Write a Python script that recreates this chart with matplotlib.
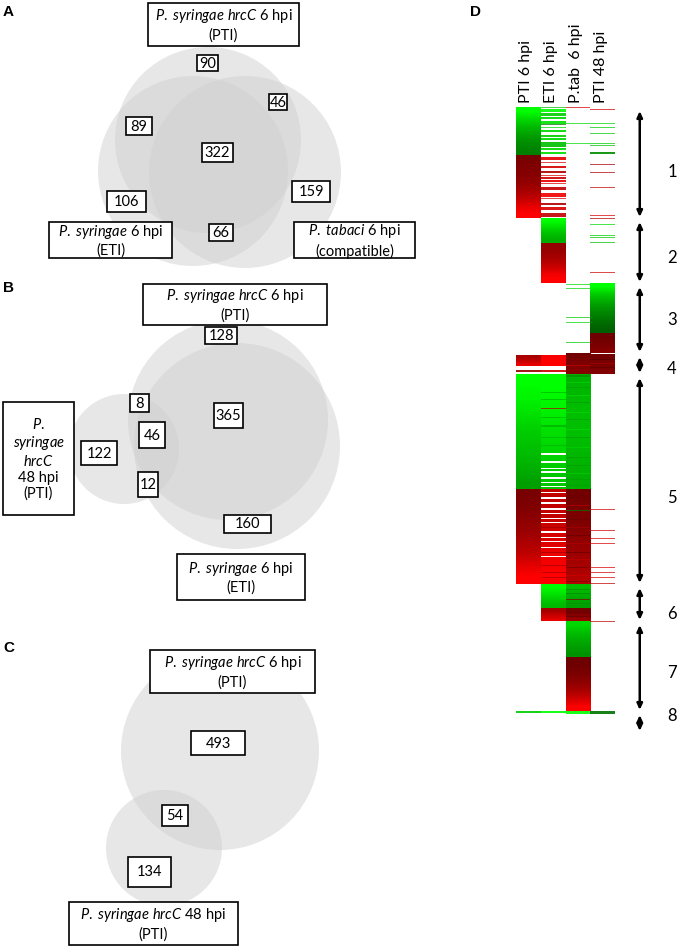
import numpy as np
import matplotlib
matplotlib.use('Agg')
import matplotlib.pyplot as plt
from matplotlib.patches import Circle, Rectangle, FancyArrowPatch
from matplotlib.colors import LinearSegmentedColormap, Normalize

plt.rcParams['font.family'] = ['Lato', 'DejaVu Sans']
plt.rcParams['mathtext.fontset'] = 'custom'
plt.rcParams['mathtext.rm'] = 'Lato'
plt.rcParams['mathtext.it'] = 'Lato:italic'

# ---------------- Venn data ----------------
venn_a_counts = [90, 46, 89, 322, 106, 159, 66]
venn_b_counts = [128, 8, 365, 46, 122, 12, 160]
venn_c_counts = [493, 54, 134]

lab_pti6 = r'$\mathit{P.\ syringae\ hrcC}$ 6 hpi' + '\n(PTI)'
lab_eti6 = r'$\mathit{P.\ syringae}$ 6 hpi' + '\n(ETI)'
lab_ptab = r'$\mathit{P.\ tabaci}$ 6 hpi' + '\n(compatible)'
lab_pti48_tall = r'$\mathit{P.}$' + '\n' + r'$\mathit{syringae}$' + '\n' + r'$\mathit{hrcC}$' + '\n48 hpi\n(PTI)'
lab_pti48 = r'$\mathit{P.\ syringae\ hrcC}$ 48 hpi' + '\n(PTI)'

# ---------------- heatmap data (rows from top, 1 row ~ 1 gene line) ----------------
col_names = ['PTI 6 hpi', 'ETI 6 hpi', 'P.tab  6 hpi', 'PTI 48 hpi']
cluster_bounds = [0, 111, 176, 246, 267, 477, 514, 604, 607]
cluster_names = ['1', '2', '3', '4', '5', '6', '7', '8']
cluster_label_rows = [65, 151, 213, 262, 391, 507, 566, 609]

# blocks: (start row, n rows, log2 fold change values top -> bottom)
pti6_blocks = [(0, 48, [-4.0, -3.4, -2.9, -2.5, -2.2, -2.0]),
               (48, 63, [1.9, 2.0, 2.1, 2.3, 2.6, 3.0, 3.6, 4.0]),
               (248, 11, [2.6, 3.0, 3.6]),
               (267, 115, [-4.0, -3.8, -3.5, -3.2, -3.0, -2.8, -2.5]),
               (382, 95, [1.9, 2.0, 2.2, 2.4, 2.7, 3.0, 3.6, 4.0])]
pti6_stripes = [(263, 2, 2.4), (604, 2, -3.2)]

eti_blocks = [(111, 25, [-4.0, -3.6, -3.2, -2.9, -2.7]),
              (136, 40, [2.3, 2.4, 2.6, 2.9, 3.3, 3.8, 4.0]),
              (248, 11, [3.9, 4.0]),
              (267, 115, [-4.0, -3.8, -3.5, -3.3, -3.1]),
              (382, 95, [3.0, 3.0, 3.2, 3.5, 3.8, 4.0]),
              (477, 24, [-4.0, -3.6, -3.2, -2.9]),
              (501, 13, [2.5, 2.8, 3.2, 3.6])]
eti_stripes = [(0, 0.6, -3.0), (2, 3, -4.0), (6, 3, -3.2), (10, 1.5, -3.4), (14, 3, -3.5),
               (17, 1, -1.6), (20, 1, -3.4), (23, 2, -3.4), (28, 1.5, -3.2), (31, 2, -3.4),
               (35, 5, -3.0), (41, 1.5, -3.4), (45, 2, -3.5),
               (50, 3, 3.6), (55, 0.6, 3.4), (59, 2, 3.4), (64, 2, 2.8), (68, 0.6, 3.4),
               (70, 2, 3.2), (73, 2, 3.6), (76, 0.7, 3.4), (80, 3, 3.0), (86, 4, 3.8),
               (91, 1, 3.4), (96, 2, 2.8), (100, 3, 3.4), (106, 4, 3.0),
               (263, 2, 3.2), (301, 1, 2.8),
               (285, 1, -2.8), (292, 1, -2.8), (310, 1, -2.8), (318, 2, -2.9), (330, 1, -2.8),
               (338, 1, -2.8), (420, 1, 2.5), (445, 1, 2.5), (458, 1, 2.5), (465, 1, 2.5),
               (470, 1, 2.5), (604, 2, -4.0)]
eti_gaps = [(346, 1.5), (354, 1.5), (361, 1), (364, 2), (370, 1.5), (375, 1), (379, 1),
            (385, 1), (390, 1.5), (395, 1.5), (401, 2), (406, 0.8), (411, 0.8), (415, 1),
            (424, 1.5), (430, 0.8), (434, 1), (440, 1), (449, 0.8)]

ptab_blocks = [(246, 21, [1.8, 1.9, 2.0, 2.1]),
               (267, 115, [-2.8, -2.9, -3.0, -3.0, -2.9, -2.8, -2.7]),
               (382, 95, [1.8, 1.9, 2.0, 2.2, 2.4, 2.6, 2.8]),
               (477, 24, [-3.0, -2.8, -2.6, -2.5]),
               (501, 13, [1.8, 2.0, 2.4]),
               (514, 36, [-3.4, -3.0, -2.7, -2.5, -2.3]),
               (550, 54, [1.7, 1.8, 2.0, 2.3, 2.7, 3.3, 4.0])]
ptab_stripes = [(0, 0.6, 3.4), (16, 0.8, -3.4), (36, 0.8, -3.4),
                (177, 0.8, -3.4), (181, 0.8, -3.4), (210, 0.8, -3.2), (215, 0.8, -3.4), (235, 0.8, -3.2),
                (258, 1, 3.2),
                (268, 2, -2.4), (275, 1, -3.4), (280, 1, -2.5), (288, 1, -3.4), (295, 1, -2.5),
                (305, 1, -3.4), (312, 1, -2.5), (322, 1, -3.4), (330, 1, -2.5), (340, 1, -3.3),
                (350, 1, -2.5), (358, 1, -2.5), (366, 1, -3.3), (372, 1, -2.5), (378, 1, -2.5),
                (390, 1, 1.6), (398, 1, 2.8), (403, 1, -2.0), (412, 1, 1.6), (420, 1, 2.6),
                (428, 1, 1.6), (436, 1, 2.8), (445, 1, 1.6), (452, 1, 3.0), (460, 1, 1.7),
                (468, 1, 3.2), (474, 1, 2.0),
                (482, 1, -2.2), (486, 1, -2.2), (492, 1, 2.0), (496, 1, -2.2), (505, 1, 1.6),
                (509, 1, 1.6), (604, 3, -4.0)]

pti48_blocks = [(176, 50, [-4.0, -3.2, -2.7, -2.3, -2.0, -1.7, -1.5]),
                (226, 20, [1.7, 1.8, 1.9, 2.1]),
                (247, 20, [1.8, 1.9, 2.0])]
pti48_stripes = [(2, 0.7, 3.4), (16, 0.9, -3.4), (20, 0.9, -3.2), (26, 0.9, -3.2), (36, 0.9, -3.2),
                 (38, 0.9, -3.0), (45, 2, -2.2), (57, 1, 2.6), (65, 0.9, 2.8), (80, 0.7, 3.0),
                 (108, 0.7, 3.4), (109.5, 0.8, 2.8), (111, 0.9, 2.8),
                 (117, 1, -3.4), (128, 0.7, -3.2), (130, 0.7, -3.2), (135, 0.9, -3.0), (165, 0.7, 3.2),
                 (252, 1, 1.4), (256, 1, 2.6), (260, 1, 1.5),
                 (402, 0.9, 3.4), (423, 0.9, 3.4), (431, 0.9, 3.4), (436, 0.9, 3.4), (460, 0.9, 3.4),
                 (465, 0.9, 3.4), (470, 0.9, 3.4), (476, 0.9, 3.0), (514, 0.9, 3.0), (604, 3, -1.8)]

# ---------------- figure ----------------
fig = plt.figure(figsize=(6.8, 9.48), dpi=100)
ax = fig.add_axes([0, 0, 1, 1])
ax.set_xlim(0, 680)
ax.set_ylim(948, 0)
ax.axis('off')

circ_fc = '#d0d0d0'


def circle(x, y, r):
    ax.add_patch(Circle((x, y), r, facecolor=circ_fc, edgecolor='none', alpha=0.5, zorder=1))


def box(x0, y0, x1, y1, txt, fs=10.5, ls=1.25):
    ax.add_patch(Rectangle((x0, y0), x1 - x0, y1 - y0, facecolor='white', edgecolor='black',
                           lw=1.2, zorder=3))
    ax.text((x0 + x1) / 2, (y0 + y1) / 2 + 0.5, str(txt), ha='center', va='center', fontsize=fs,
            linespacing=ls, zorder=4)


# panel A
circle(208, 140, 93)
circle(193, 171, 95)
circle(245, 172, 96)
box(148, 3, 299, 46, lab_pti6)
box(49, 222, 172, 258, lab_eti6)
box(294, 222, 415, 258, lab_ptab)
a_pos = [(197, 55, 218, 71), (269, 94, 287, 110), (126, 117, 152, 135), (202, 143, 233, 162),
         (107, 191, 146, 212), (292, 181, 330, 202), (209, 224, 233, 241)]
for (x0, y0, x1, y1), n in zip(a_pos, venn_a_counts):
    box(x0, y0, x1, y1, n)

# panel B
circle(228, 420, 100)
circle(237, 446, 103)
circle(124, 449, 55)
box(143, 284, 327, 325, lab_pti6)
box(177, 554, 305, 600, lab_eti6)
box(3, 402, 74, 515, lab_pti48_tall, ls=1.15)
b_pos = [(205, 327, 237, 344), (130, 394, 149, 412), (214, 403, 243, 428), (139, 422, 165, 448),
         (81, 441, 117, 465), (138, 472, 158, 497), (224, 515, 271, 533)]
for (x0, y0, x1, y1), n in zip(b_pos, venn_b_counts):
    box(x0, y0, x1, y1, n)

# panel C
circle(220, 751, 99)
circle(164, 848, 58)
box(150, 650, 315, 693, lab_pti6)
box(69, 902, 238, 945, lab_pti48)
c_pos = [(191, 731, 245, 755), (162, 805, 188, 826), (128, 857, 171, 887)]
for (x0, y0, x1, y1), n in zip(c_pos, venn_c_counts):
    box(x0, y0, x1, y1, n)

for letter, (x, y) in zip('ABCD', [(3, 12), (3, 288), (3, 648), (470, 12)]):
    ax.text(x, y, letter, fontsize=11, fontweight='bold', family='Liberation Sans',
            ha='left', va='center')

# ---------------- heatmap D ----------------
n_rows = cluster_bounds[-1]
hx = fig.add_axes([516 / 680, 1 - 714 / 948, 99 / 680, n_rows / 948])
cmap = LinearSegmentedColormap.from_list('gbr', ['#00ff00', '#000000', '#ff0000'])
norm = Normalize(-4, 4)

columns = [(pti6_blocks, pti6_stripes, []), (eti_blocks, eti_stripes, eti_gaps),
           (ptab_blocks, ptab_stripes, []), (pti48_blocks, pti48_stripes, [])]
for c, (blocks, stripes, gaps) in enumerate(columns):
    for r, n, vals in blocks:
        hx.imshow(np.array(vals).reshape(-1, 1), cmap=cmap, norm=norm, aspect='auto',
                  extent=[c, c + 1, r + n, r], interpolation='bilinear', zorder=1)
    for r, h in gaps:
        hx.bar(c, h, bottom=r, width=1, align='edge', color='white', linewidth=0, zorder=2)
    for r, h, v in stripes:
        a = 0.7 if h < 1.5 else 0.9
        hx.bar(c, h, bottom=r, width=1, align='edge', color=cmap(norm(v)), alpha=a,
               linewidth=0, zorder=3)

hx.set_xlim(0, 4)
hx.set_ylim(n_rows, 0)
hx.axis('off')

for c, name in enumerate(col_names):
    hx.text(c + 0.42, -4, name, rotation=90, ha='center', va='bottom', fontsize=11.5)

arrow_x = 5.0
for i in range(len(cluster_names)):
    top = cluster_bounds[i] + 4
    bot = max(cluster_bounds[i + 1] - 1, top + 16)
    arr = FancyArrowPatch((arrow_x, top), (arrow_x, bot),
                          arrowstyle='<|-|>,head_length=3.5,head_width=1.6',
                          color='black', lw=1.8, shrinkA=0, shrinkB=0, clip_on=False, zorder=5)
    hx.add_patch(arr)
    hx.text(6.3, cluster_label_rows[i], cluster_names[i], ha='center', va='center', fontsize=12,
            clip_on=False)

fig.savefig('out.png', dpi=100, facecolor='white')
